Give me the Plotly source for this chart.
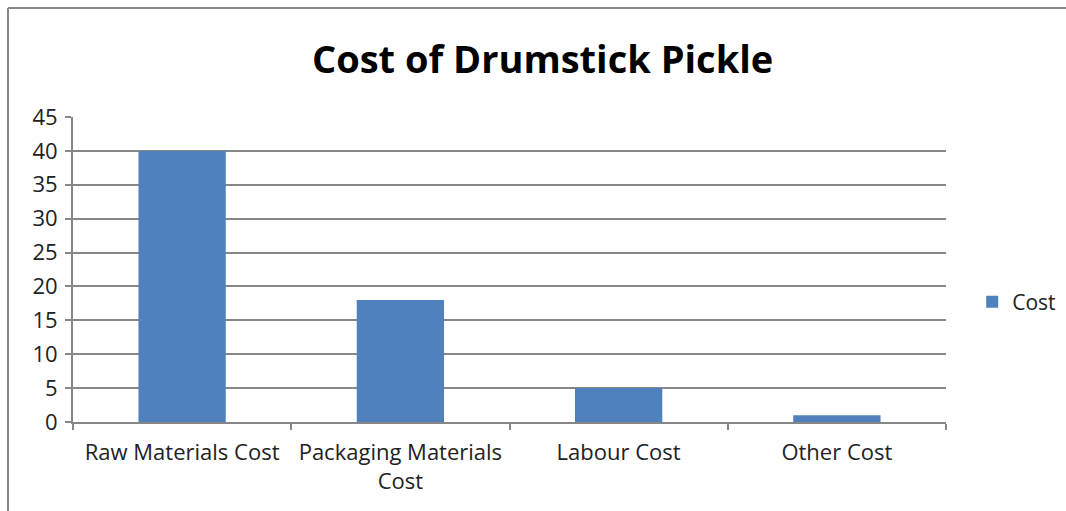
import plotly.graph_objects as go

categories = ["Raw Materials Cost", "Packaging Materials<br>Cost", "Labour Cost", "Other Cost"]
values = [40, 18, 5, 1]
series_name = "Cost"
y_ticks = [0, 5, 10, 15, 20, 25, 30, 35, 40, 45]

FONT = "Open Sans"
GRID = "#878787"

fig = go.Figure()
fig.add_trace(go.Bar(
    x=categories, y=values, name=series_name,
    marker=dict(color="#4F81BD", line=dict(width=0)),
    width=0.4,
))

fig.update_layout(
    width=1066, height=511,
    margin=dict(l=73, r=120, t=117, b=89, autoexpand=False),
    paper_bgcolor="white", plot_bgcolor="white",
    title=dict(text="<b>Cost of Drumstick Pickle</b>", x=0.509, xanchor="center",
               y=0.883, yanchor="middle",
               font=dict(family=FONT, size=38, color="black")),
    showlegend=True,
    legend=dict(x=1.03, xanchor="left", y=0.393, yanchor="middle",
                font=dict(family=FONT, size=21, color="#222222"),
                itemwidth=30, bgcolor="rgba(0,0,0,0)"),
    bargap=0.6,
    font=dict(family=FONT, color="#222222"),
)

fig.update_xaxes(
    type="category", showgrid=False, showline=True, linecolor=GRID, linewidth=2,
    ticks="outside", tickson="boundaries", ticklen=6, tickcolor=GRID, tickwidth=2,
    tickfont=dict(family=FONT, size=22, color="#222222"),
    ticklabelstandoff=10,
    range=[-0.5, 3.5],
)
fig.update_yaxes(
    range=[0, 45], tickvals=y_ticks, showgrid=True, gridcolor=GRID, gridwidth=2,
    showline=True, linecolor=GRID, linewidth=2, zeroline=False,
    ticks="outside", ticklen=6, tickcolor=GRID, tickwidth=2,
    tickfont=dict(family=FONT, size=22, color="#222222"),
    ticklabelstandoff=3,
)

# outer chart frame (left and top edges)
fig.add_shape(type="line", xref="paper", yref="paper", x0=-65/873, x1=-65/873,
              y0=-89/305, y1=(511-8)/305 - 89/305, line=dict(color=GRID, width=2))
fig.add_shape(type="line", xref="paper", yref="paper", x0=-65/873, x1=1.2,
              y0=(511-8-89)/305, y1=(511-8-89)/305, line=dict(color=GRID, width=2))

fig.write_html("out.html")
